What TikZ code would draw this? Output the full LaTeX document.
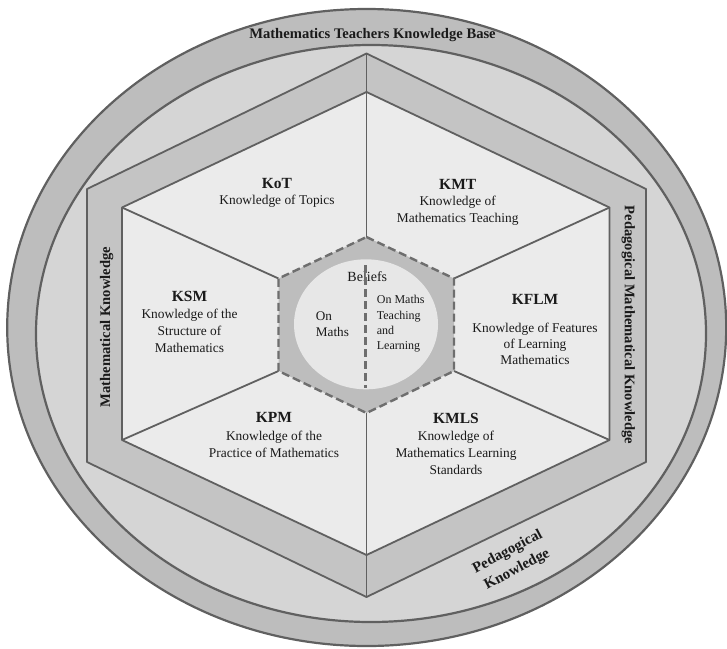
\documentclass[tikz,border=0pt]{standalone}
\usepackage{fontspec}
\setmainfont{Liberation Serif}
\definecolor{ringband}{HTML}{BDBDBD}
\definecolor{ringin}{HTML}{D5D5D5}
\definecolor{hexband}{HTML}{C4C4C4}
\definecolor{sector}{HTML}{EBEBEB}
\definecolor{corefill}{HTML}{BDBDBD}
\definecolor{circfill}{HTML}{E7E7E7}
\definecolor{linegray}{HTML}{606060}
\definecolor{dashgray}{HTML}{6E6E6E}
\definecolor{txt}{HTML}{1A1A1A}
\begin{document}
\begin{tikzpicture}[x=1pt,y=-1pt,
  edge/.style={draw=linegray, line width=1.8pt, line join=round},
  ringline/.style={draw=linegray, line width=2.2pt},
  dashline/.style={draw=dashgray, line width=2.4pt, dash pattern=on 8pt off 4pt},
  lbl/.style={font=\bfseries\fontsize{15.5}{18}\selectfont, text=txt, inner sep=0pt},
  body/.style={font=\fontsize{13.4}{16.7}\selectfont, align=center, text=txt, inner sep=0pt},
  side/.style={font=\bfseries\fontsize{14.6}{18}\selectfont, text=txt, inner sep=0pt},
  core/.style={text=txt, inner sep=0pt}]
\useasboundingbox (0,0) rectangle (727,648);
% outer ellipses
\draw[ringline, fill=ringband] (366.7,327.5) ellipse [x radius=359.5pt, y radius=318.5pt];
\draw[ringline, fill=ringin] (371,333.5) ellipse [x radius=335pt, y radius=288.5pt];
% hexagon vertices
\coordinate (oT) at (366.5,53.5);
\coordinate (oTR) at (646,189);
\coordinate (oBR) at (646,462);
\coordinate (oB) at (366.5,597);
\coordinate (oBL) at (87,462);
\coordinate (oTL) at (87,189);
\coordinate (iT) at (366.5,92);
\coordinate (iTR) at (609.5,207.5);
\coordinate (iBR) at (609.5,440);
\coordinate (iB) at (366.5,555);
\coordinate (iBL) at (122,440);
\coordinate (iTL) at (122,207.5);
\coordinate (cT) at (366.5,237);
\coordinate (cTR) at (454,278.5);
\coordinate (cBR) at (454,371);
\coordinate (cB) at (366.5,413);
\coordinate (cBL) at (278.5,371);
\coordinate (cTL) at (278.5,278.5);
\coordinate (dTop) at (365.5,265);
\coordinate (dBot) at (365.5,388);
% outer hexagon band
\draw[edge, fill=hexband] (oT) -- (oTR) -- (oBR) -- (oB) -- (oBL) -- (oTL) -- cycle;
\draw[edge] (oT) -- (iT);
\draw[edge] (oB) -- (iB);
% inner hexagon
\draw[edge, fill=sector] (iT) -- (iTR) -- (iBR) -- (iB) -- (iBL) -- (iTL) -- cycle;
% spokes
\draw[edge] (iT) -- (cT);
\draw[edge] (iTR) -- (cTR);
\draw[edge] (iBR) -- (cBR);
\draw[edge] (iB) -- (cB);
\draw[edge] (iBL) -- (cBL);
\draw[edge] (iTL) -- (cTL);
% core
\fill[corefill] (cT) -- (cTR) -- (cBR) -- (cB) -- (cBL) -- (cTL) -- cycle;
\draw[dashline] (cT) -- (cTR) -- (cBR) -- (cB) -- (cBL) -- (cTL) -- cycle;
\fill[circfill] (366,324.3) ellipse [x radius=72pt, y radius=65pt];
% texts in core
\node[core, font=\fontsize{14}{16}\selectfont] (bel) at (367.3,276.7) {Beliefs};
\draw[dashline] (dTop) -- (dBot);
\node[core, anchor=west, align=left, font=\fontsize{13.2}{16.6}\selectfont] (onm) at (315.7,324) {On\\Maths};
\node[core, anchor=west, align=left, font=\fontsize{12}{15.3}\selectfont] (onmt) at (376.7,324) {On Maths\\Teaching\\and\\Learning};
% sector texts
\node[lbl] (kot) at (277,183.3) {KoT};
\node[body] (kotb) at (277,201) {Knowledge of Topics};
\node[lbl] (kmt) at (457.7,184.3) {KMT};
\node[body] (kmtb) at (457.7,210.5) {Knowledge of\\Mathematics Teaching};
\node[lbl] (ksm) at (189.5,296) {KSM};
\node[body] (ksmb) at (189.5,330.7) {Knowledge of the\\Structure of\\Mathematics};
\node[lbl] (kflm) at (535,299.3) {KFLM};
\node[body, font=\fontsize{13.4}{16}\selectfont] (kflmb) at (535,344) {Knowledge of Features\\of Learning\\Mathematics};
\node[lbl] (kpm) at (274,417.3) {KPM};
\node[body] (kpmb) at (274,444.3) {Knowledge of the\\Practice of Mathematics};
\node[lbl] (kmls) at (456,418.3) {KMLS};
\node[body] (kmlsb) at (456,452.7) {Knowledge of\\Mathematics Learning\\Standards};
% band labels
\node[side] (title) at (372.5,35) {Mathematics Teachers Knowledge Base};
\node[side, rotate=90] (mk) at (106.7,327) {Mathematical Knowledge};
\node[side, rotate=-90] (pmk) at (628.3,325) {Pedagogical Mathematical Knowledge};
\node[side, rotate=28, align=center, font=\bfseries\fontsize{15}{20}\selectfont] (pk) at (512.5,561) {Pedagogical\\Knowledge};
\end{tikzpicture}
\end{document}
